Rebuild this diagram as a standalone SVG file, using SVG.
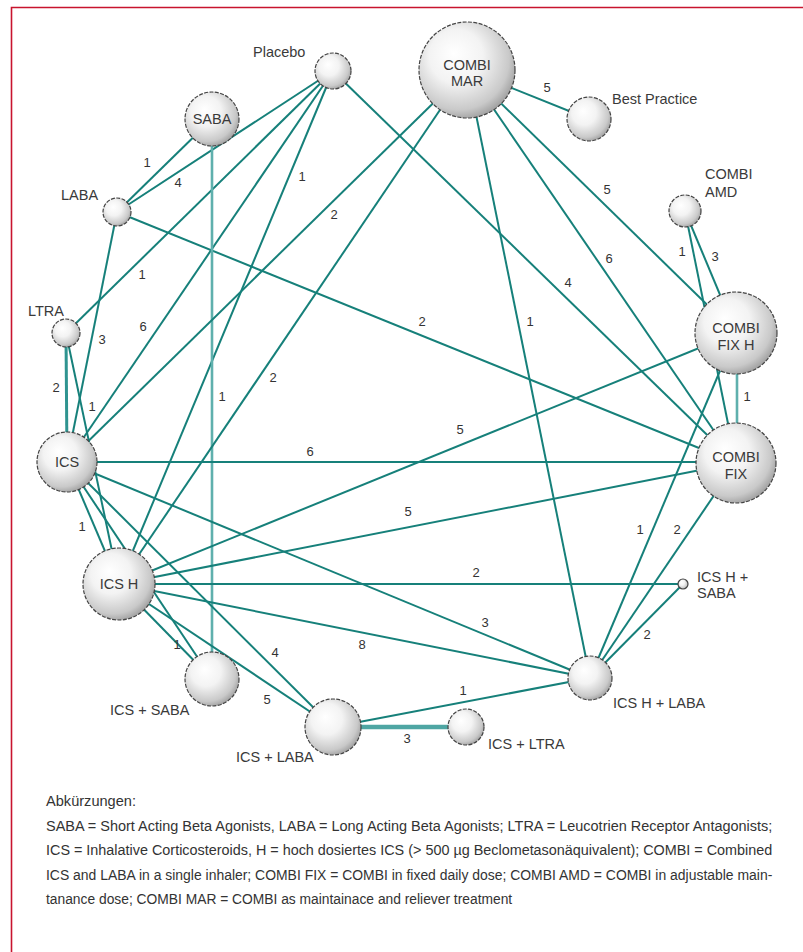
<svg xmlns="http://www.w3.org/2000/svg" width="803" height="952" viewBox="0 0 803 952">
<defs>
<radialGradient id="ball" cx="0.42" cy="0.4" r="0.62" fx="0.36" fy="0.32">
<stop offset="0" stop-color="#ffffff"/>
<stop offset="0.45" stop-color="#f3f3f3"/>
<stop offset="0.85" stop-color="#c9c9c9"/>
<stop offset="1" stop-color="#a2a2a2"/>
</radialGradient>
<style>
.e{stroke:#16807a;stroke-width:2;fill:none}
.el{stroke:#5fb0ad;stroke-width:2.6;fill:none}
.et{stroke:#2f9490;stroke-width:3;fill:none}
.ew{stroke:#4ea6a3;stroke-width:4.5;fill:none}
.n{fill:url(#ball);stroke:#444;stroke-width:1.2;stroke-dasharray:4 1.4}
.t{font-family:"Liberation Sans",Arial,sans-serif;font-size:14.5px;fill:#3a3a3a}
.c{text-anchor:middle}
.w{font-family:"Liberation Sans",Arial,sans-serif;font-size:13px;fill:#333;text-anchor:middle}
.lg{font-family:"Liberation Sans",Arial,sans-serif;font-size:15.5px;fill:#333}
</style>
</defs>
<rect x="0" y="0" width="803" height="952" fill="#ffffff"/>
<path d="M11.5 952 V7.5 H803" fill="none" stroke="#c8142e" stroke-width="1.6"/>

<g id="connectors">
<line class="e" x1="117" y1="212" x2="212" y2="119"/>
<line class="e" x1="117" y1="212" x2="333" y2="71"/>
<line class="e" x1="117" y1="212" x2="67" y2="462"/>
<line class="e" x1="117" y1="212" x2="736" y2="463"/>
<line class="e" x1="333" y1="71" x2="66" y2="333"/>
<line class="e" x1="333" y1="71" x2="67" y2="462"/>
<line class="e" x1="333" y1="71" x2="119" y2="584"/>
<line class="e" x1="333" y1="71" x2="736" y2="463"/>
<line class="el" x1="212" y1="119" x2="212" y2="679"/>
<line class="e" x1="467" y1="70" x2="589" y2="119"/>
<line class="e" x1="467" y1="70" x2="67" y2="462"/>
<line class="e" x1="467" y1="70" x2="119" y2="584"/>
<line class="e" x1="467" y1="70" x2="590" y2="678"/>
<line class="e" x1="467" y1="70" x2="736" y2="463"/>
<line class="e" x1="467" y1="70" x2="736" y2="333"/>
<line class="e" x1="685" y1="211" x2="736" y2="463"/>
<line class="e" x1="685" y1="211" x2="736" y2="333"/>
<line class="el" x1="737" y1="333" x2="737" y2="463"/>
<line class="et" x1="66" y1="333" x2="67" y2="462"/>
<line class="e" x1="66" y1="333" x2="119" y2="584"/>
<line class="e" x1="67" y1="462" x2="736" y2="462"/>
<line class="e" x1="67" y1="462" x2="119" y2="584"/>
<line class="e" x1="67" y1="462" x2="212" y2="679"/>
<line class="e" x1="67" y1="462" x2="333" y2="727"/>
<line class="e" x1="67" y1="462" x2="590" y2="678"/>
<line class="e" x1="119" y1="584" x2="736" y2="333"/>
<line class="e" x1="119" y1="584" x2="736" y2="463"/>
<line class="e" x1="119" y1="584" x2="683" y2="584"/>
<line class="e" x1="119" y1="584" x2="590" y2="678"/>
<line class="e" x1="119" y1="584" x2="212" y2="679"/>
<line class="e" x1="119" y1="584" x2="333" y2="727"/>
<line class="e" x1="333" y1="727" x2="590" y2="678"/>
<line class="ew" x1="333" y1="727" x2="466" y2="727"/>
<line class="e" x1="590" y1="678" x2="736" y2="333"/>
<line class="e" x1="590" y1="678" x2="736" y2="463"/>
<line class="e" x1="590" y1="678" x2="683" y2="584"/>
</g>

<g id="edge-labels">
<text class="w" x="147" y="167">1</text>
<text class="w" x="178" y="187">4</text>
<text class="w" x="302" y="181">1</text>
<text class="w" x="334" y="219">2</text>
<text class="w" x="142" y="279">1</text>
<text class="w" x="102" y="344">3</text>
<text class="w" x="143" y="331">6</text>
<text class="w" x="56" y="392">2</text>
<text class="w" x="92" y="411">1</text>
<text class="w" x="222" y="401">1</text>
<text class="w" x="273" y="382">2</text>
<text class="w" x="310" y="456">6</text>
<text class="w" x="422" y="326">2</text>
<text class="w" x="547" y="92">5</text>
<text class="w" x="607" y="194">5</text>
<text class="w" x="609" y="263">6</text>
<text class="w" x="568" y="287">4</text>
<text class="w" x="530" y="326">1</text>
<text class="w" x="682" y="256">1</text>
<text class="w" x="715" y="261">3</text>
<text class="w" x="747" y="401">1</text>
<text class="w" x="460" y="434">5</text>
<text class="w" x="408" y="516">5</text>
<text class="w" x="82" y="531">1</text>
<text class="w" x="476" y="577">2</text>
<text class="w" x="485" y="627">3</text>
<text class="w" x="362" y="649">8</text>
<text class="w" x="640" y="534">1</text>
<text class="w" x="677" y="534">2</text>
<text class="w" x="647" y="639">2</text>
<text class="w" x="177" y="649">1</text>
<text class="w" x="275" y="657">4</text>
<text class="w" x="267" y="704">5</text>
<text class="w" x="463" y="695">1</text>
<text class="w" x="407" y="743">3</text>
</g>

<g id="placebo"><circle class="n" cx="333" cy="71" r="18"/><text class="t" x="253" y="57">Placebo</text></g>
<g id="saba"><circle class="n" cx="212" cy="119" r="27"/><text class="t c" x="212" y="124">SABA</text></g>
<g id="laba"><circle class="n" cx="117" cy="212" r="14"/><text class="t" x="61" y="200">LABA</text></g>
<g id="combi-mar"><circle class="n" cx="467" cy="70" r="48"/><text class="t c" x="467" y="70">COMBI</text><text class="t c" x="467" y="86">MAR</text></g>
<g id="best-practice"><circle class="n" cx="589" cy="119" r="22"/><text class="t" x="612" y="104">Best Practice</text></g>
<g id="combi-amd"><circle class="n" cx="685" cy="211" r="16"/><text class="t" x="705" y="179">COMBI</text><text class="t" x="705" y="197">AMD</text></g>
<g id="ltra"><circle class="n" cx="66" cy="333" r="14"/><text class="t" x="28" y="316">LTRA</text></g>
<g id="ics"><circle class="n" cx="67" cy="462" r="30"/><text class="t c" x="67" y="467">ICS</text></g>
<g id="combi-fix-h"><circle class="n" cx="736" cy="333" r="41"/><text class="t c" x="736" y="333">COMBI</text><text class="t c" x="736" y="350">FIX H</text></g>
<g id="combi-fix"><circle class="n" cx="736" cy="463" r="40"/><text class="t c" x="736" y="462">COMBI</text><text class="t c" x="736" y="479">FIX</text></g>
<g id="ics-h"><circle class="n" cx="119" cy="584" r="36"/><text class="t c" x="119" y="589">ICS H</text></g>
<g id="ics-saba"><circle class="n" cx="212" cy="679" r="27"/><text class="t" x="110" y="715">ICS + SABA</text></g>
<g id="ics-laba"><circle class="n" cx="333" cy="727" r="28"/><text class="t" x="236" y="762">ICS + LABA</text></g>
<g id="ics-ltra"><circle class="n" cx="466" cy="727" r="18"/><text class="t" x="488" y="749">ICS + LTRA</text></g>
<g id="ics-h-laba"><circle class="n" cx="590" cy="678" r="22"/><text class="t" x="613" y="708">ICS H + LABA</text></g>
<g id="ics-h-saba"><circle class="n" cx="683" cy="584" r="5" style="stroke-dasharray:none"/><text class="t" x="697" y="582">ICS H +</text><text class="t" x="697" y="598">SABA</text></g>

<g id="legend" transform="translate(46 0) scale(0.9 1)">
<text class="lg" x="0" y="806" textLength="100" lengthAdjust="spacingAndGlyphs">Abkürzungen:</text>
<text class="lg" x="0" y="831" textLength="807" lengthAdjust="spacingAndGlyphs">SABA = Short Acting Beta Agonists, LABA = Long Acting Beta Agonists; LTRA = Leucotrien Receptor Antagonists;</text>
<text class="lg" x="0" y="855" textLength="807" lengthAdjust="spacingAndGlyphs">ICS = Inhalative Corticosteroids, H = hoch dosiertes ICS (&gt; 500 µg Beclometasonäquivalent); COMBI = Combined</text>
<text class="lg" x="0" y="880" textLength="807" lengthAdjust="spacingAndGlyphs">ICS and LABA in a single inhaler; COMBI FIX = COMBI in fixed daily dose; COMBI AMD = COMBI in adjustable main-</text>
<text class="lg" x="0" y="904" textLength="518" lengthAdjust="spacingAndGlyphs">tanance dose; COMBI MAR = COMBI as maintainace and reliever treatment</text>
</g>
</svg>
